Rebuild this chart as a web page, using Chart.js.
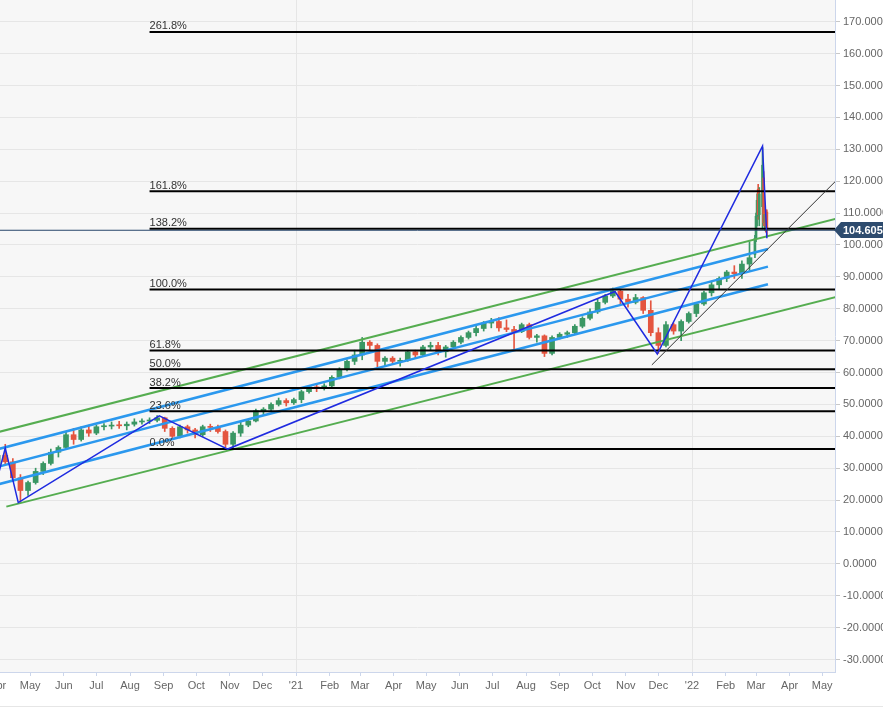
<!DOCTYPE html>
<html><head><meta charset="utf-8">
<script src="https://cdn.jsdelivr.net/npm/chart.js@4.4.1/dist/chart.umd.min.js"></script>
<style>
html,body{margin:0;padding:0;background:#fff;}
#wrap{position:relative;width:883px;height:721px;overflow:hidden;}
canvas{display:block;}
#navline{position:absolute;left:0;top:706px;width:883px;height:1px;background:#e6e6e6;}
</style></head><body>
<div id="wrap"><canvas id="c" width="883" height="721"></canvas><div id="navline"></div></div>
<script>
// ---------- DATA ----------
const weekDates = ['2020-04-01','2020-04-08','2020-04-15','2020-04-22','2020-04-29','2020-05-06','2020-05-13','2020-05-20','2020-05-27','2020-06-03','2020-06-10','2020-06-17','2020-06-24','2020-07-01','2020-07-08','2020-07-15','2020-07-22','2020-07-29','2020-08-05','2020-08-12','2020-08-19','2020-08-26','2020-09-02','2020-09-09','2020-09-16','2020-09-23','2020-09-30','2020-10-07','2020-10-14','2020-10-21','2020-10-28','2020-11-04','2020-11-11','2020-11-18','2020-11-25','2020-12-02','2020-12-09','2020-12-16','2020-12-23','2020-12-30','2021-01-06','2021-01-13','2021-01-20','2021-01-27','2021-02-03','2021-02-10','2021-02-17','2021-02-24','2021-03-03','2021-03-10','2021-03-17','2021-03-24','2021-03-31','2021-04-07','2021-04-14','2021-04-21','2021-04-28','2021-05-05','2021-05-12','2021-05-19','2021-05-26','2021-06-02','2021-06-09','2021-06-16','2021-06-23','2021-06-30','2021-07-07','2021-07-14','2021-07-21','2021-07-28','2021-08-04','2021-08-11','2021-08-18','2021-08-25','2021-09-01','2021-09-08','2021-09-15','2021-09-22','2021-09-29','2021-10-06','2021-10-13','2021-10-20','2021-10-27','2021-11-03','2021-11-10','2021-11-17','2021-11-24','2021-12-01','2021-12-08','2021-12-15','2021-12-22','2021-12-29','2022-01-05','2022-01-12','2022-01-19','2022-01-26','2022-02-02','2022-02-09','2022-02-16','2022-02-23'];
const weekOpen  = [31,34,32,27,23,25.5,29,31.5,35,36.5,40.5,39,42,41,43,43.2,43.5,43.3,43.8,44.5,44.8,45,45.8,42.5,40,43,42,40.5,43,42.8,41.5,37.5,41,43.5,44.8,48,48.5,50,51.2,50.5,51.5,54,55.5,55,55.8,58.5,61,63.5,65.5,69.5,68.5,63.5,64.5,63.5,63.8,66.5,65.5,68,68.5,66.5,68,69.5,71,72.5,73.8,75.5,76,74,73.5,72.8,75,71,71.5,66,71,72,72.5,74.5,77,79,82,84,85.5,83,82,83.5,79.5,72.5,68.5,75,73,76,78.5,81.5,85,87.5,89.5,91.5,91,94];
const weekHigh  = [35,37.5,33,28,26,30,32,36,37,41.5,42.5,43,43.5,43.5,44,44.5,44.7,44.5,45.5,45.5,45.8,46.5,46,43,43.5,43.5,42.5,43.5,43.8,43.5,42,41.5,44.5,45,48.5,49,50.5,52,51.8,52,54.5,56,56.5,56.5,59,61.5,64,67,71,70,69,65,65,64.5,67,67,68.5,69.5,69.5,68.5,70,71.5,73,74.5,76,77,77.2,76.5,74.5,75.5,75.5,72,71.8,71.5,72.5,73,75,77.5,80,83,84.5,86.5,86,84.5,84.5,83.8,82.5,74,76,75.5,76.5,79,82,85.5,88.5,90,92,93.5,95,101];
const weekLow   = [30,31,26,19.3,21.5,25,28,31,33.5,36,37.5,38.5,40,40.5,42,42.3,42.5,42,43.2,43.8,44,44.5,41.5,39.3,39.5,41,39.5,40,41.5,41,36.5,36.2,40,43,44.5,46.8,48,49.5,49.5,50,50.5,53.5,54,54.5,55.5,58,60.5,62.5,64,67,61.5,62,62.5,62,63.5,64.5,65,67,65.5,64.8,67.5,69,70.5,71.5,73,74,73,72.8,67.5,72.5,70.5,69.5,65,65.5,70.5,71,72,74,76.5,78.5,81.5,83.5,81.5,80.5,81.5,78.5,71.5,66,68,72,70,75.5,77.5,81,84,86,88.5,89.5,89.5,92];
const weekClose = [34,32,27,23,25.5,29,31.5,35,36.5,40.5,39,42,41,43,43.2,43.5,43.3,43.8,44.5,44.8,45,45.8,42.5,40,43,42,40.5,43,42.8,41.5,37.5,41,43.5,44.8,48,48.5,50,51.2,50.5,51.5,54,55.5,55,55.8,58.5,61,63.5,65.5,69.5,68.5,63.5,64.5,63.5,63.8,66.5,65.5,68,68.5,66.5,68,69.5,71,72.5,73.8,75.5,76,74,73.5,72.8,75,71,71.5,66,71,72,72.5,74.5,77,79,82,84,85.5,83,82,83.5,79.5,72.5,68.5,75,73,76,78.5,81.5,85,87.5,89.5,91.5,91,94,96];

const dayDates = ['2022-02-28','2022-03-01','2022-03-02','2022-03-03','2022-03-04','2022-03-07','2022-03-08','2022-03-09','2022-03-10','2022-03-11'];
const dayOpen  = [97,102,109,117.5,109.5,112,121,107,109.5,110.3];
const dayHigh  = [103,110,116,119,118,130.5,123,112,111,111];
const dayLow   = [96,101,106,108,106,105,106,104.5,104,102.5];
const dayClose = [102,109,114,109.5,116,125,107,109.5,106,104.605];

const lastPrice = 104.605;

// drawn studies: [date, value]
const channelUpperGreen = [['2020-04-02',41.37],['2022-05-13',108.17]];
const channelLowerGreen = [['2020-04-09',17.95],['2022-05-13',83.59]];
const channelBlueTop    = [['2020-04-02',36.03],['2022-03-12',98.74]];
const channelBlueMid    = [['2020-04-02',30.49],['2022-03-12',93.19]];
const channelBlueBottom = [['2020-04-02',24.97],['2022-03-12',87.67]];
const zigzag = [['2020-04-02',28.5],['2020-04-08',36.3],['2020-04-20',19.2],['2020-08-28',46.4],['2020-10-30',36.0],['2021-10-22',85.4],['2021-11-30',65.8],['2022-03-07',131.0],['2022-03-11',102.1]];
const supportLine = [['2021-11-25',62.4],['2022-05-13',119.87]];

const fibLabels = ['0.0%','23.6%','38.2%','50.0%','61.8%','100.0%','138.2%','161.8%','261.8%'];
const fibValues = [36.05,47.84,55.13,61.03,66.92,86.0,105.07,116.87,166.80];
const fibStart = '2020-08-19', fibEnd = '2022-05-13';

const xTickDates = ['2020-04-01','2020-05-01','2020-06-01','2020-07-01','2020-08-01','2020-09-01','2020-10-01','2020-11-01','2020-12-01','2021-01-01','2021-02-01','2021-03-01','2021-04-01','2021-05-01','2021-06-01','2021-07-01','2021-08-01','2021-09-01','2021-10-01','2021-11-01','2021-12-01','2022-01-01','2022-02-01','2022-03-01','2022-04-01','2022-05-01'];
const xTickLabels = ['Apr','May','Jun','Jul','Aug','Sep','Oct','Nov','Dec',"'21",'Feb','Mar','Apr','May','Jun','Jul','Aug','Sep','Oct','Nov','Dec',"'22",'Feb','Mar','Apr','May'];
const yTickValues = [-30,-20,-10,0,10,20,30,40,50,60,70,80,90,100,110,120,130,140,150,160,170];

// ---------- BUILD ----------
const dayNum = s => { const [y,m,d] = s.split('-').map(Number); return (Date.UTC(y,m-1,d) - Date.UTC(2020,0,1)) / 86400000; };
const GREEN = '#3a9764', RED = '#e4553f';
const FONT = '"Liberation Sans", Arial, sans-serif';

function candleSets(dates, o, h, l, c, bodyW, order) {
  const cols = o.map((v,i) => c[i] >= v ? GREEN : RED);
  return [
    { type:'bar', data: dates.map((d,i)=>({x:dayNum(d), y:[l[i],h[i]]})), backgroundColor: cols, barThickness: 1, grouped:false, order: order+1, minBarLength:1 },
    { type:'bar', data: dates.map((d,i)=>({x:dayNum(d), y:[o[i],c[i]]})), backgroundColor: cols, barThickness: bodyW, grouped:false, order: order, minBarLength:1 }
  ];
}
function lineSet(pts, color, width, order) {
  return { type:'line', data: pts.map(p=>({x:dayNum(p[0]), y:p[1]})), borderColor: color, borderWidth: width, pointRadius:0, fill:false, tension:0, order: order };
}

const datasets = [
  ...candleSets(weekDates, weekOpen, weekHigh, weekLow, weekClose, 5, 20),
  ...candleSets(dayDates, dayOpen, dayHigh, dayLow, dayClose, 2, 20),
  lineSet(channelUpperGreen, '#55ad50', 2, 8),
  lineSet(channelLowerGreen, '#55ad50', 2, 8),
  lineSet(channelBlueTop, '#2b98ee', 2.5, 7),
  lineSet(channelBlueMid, '#2b98ee', 2.5, 7),
  lineSet(channelBlueBottom, '#2b98ee', 2.5, 7),
  ...fibValues.map(v => lineSet([[fibStart, v],[fibEnd, v]], '#000000', 2, 6)),
  lineSet(zigzag, '#1f2be0', 1.5, 4),
  lineSet(supportLine, '#333333', 1, 4),
  lineSet([['2020-04-01', lastPrice],['2022-05-20', lastPrice]], '#27466b', 1, 2)
];

const xTickDays = xTickDates.map(dayNum);

const decor = {
  id: 'decor',
  beforeDraw(chart) {
    const {ctx, chartArea: a} = chart;
    ctx.save(); ctx.fillStyle = '#f7f7f7';
    ctx.fillRect(a.left, a.top, a.right - a.left, a.bottom - a.top);
    ctx.restore();
  },
  afterDatasetsDraw(chart) {
    const {ctx, scales: {x, y}} = chart;
    ctx.save();
    ctx.font = '11px ' + FONT; ctx.fillStyle = '#333'; ctx.textBaseline = 'alphabetic'; ctx.textAlign = 'left';
    const px = x.getPixelForValue(dayNum(fibStart));
    fibValues.forEach((v,i) => ctx.fillText(fibLabels[i], px, y.getPixelForValue(v) - 2.5));
    ctx.restore();
  },
  afterDraw(chart) {
    const {ctx, chartArea: a, scales: {y}} = chart;
    const py = Math.round(y.getPixelForValue(lastPrice));
    ctx.save();
    ctx.fillStyle = '#2d4b6e';
    ctx.beginPath();
    ctx.moveTo(a.right - 1, py); ctx.lineTo(a.right + 6, py - 8); ctx.lineTo(chart.width, py - 8);
    ctx.lineTo(chart.width, py + 8); ctx.lineTo(a.right + 6, py + 8); ctx.closePath(); ctx.fill();
    ctx.fillStyle = '#fff'; ctx.font = 'bold 11px ' + FONT; ctx.textBaseline = 'middle'; ctx.textAlign = 'left';
    ctx.fillText(lastPrice.toFixed(3), a.right + 8, py + 0.5);
    ctx.restore();
  }
};

new Chart(document.getElementById('c'), {
  type: 'line',
  data: { datasets },
  options: {
    responsive: false, animation: false, devicePixelRatio: 1, events: [],
    layout: { padding: 0 },
    plugins: { legend: {display:false}, tooltip: {enabled:false} },
    scales: {
      x: {
        type: 'linear', position: 'bottom', min: 93.16, max: 862.8, offset: false,
        afterBuildTicks: s => { s.ticks = xTickDays.map(v => ({value: v})); },
        afterFit: s => { s.height = 49; s.paddingLeft = 0; s.paddingRight = 0; },
        grid: { offset:false, color: c => (c.tick && (c.index === 9 || c.index === 21)) ? '#e6e6e6' : 'rgba(0,0,0,0)', tickColor: '#ccd6eb', tickLength: 4, lineWidth: 1 },
        border: { display: true, color: '#ccd6eb' },
        ticks: { autoSkip:false, maxRotation:0, minRotation:0, padding: 3, color:'#666', font:{family:FONT, size:11}, callback: (v, i) => xTickLabels[i] }
      },
      y: {
        type: 'linear', position: 'right', min: -33.9, max: 176.8,
        afterBuildTicks: s => { s.ticks = yTickValues.map(v => ({value: v})); },
        afterFit: s => { s.width = 48; s.paddingTop = 0; s.paddingBottom = 0; },
        grid: { color: '#e6e6e6', tickColor: '#c8c8c8', tickLength: 5 },
        border: { display: true, color: '#ccd6eb' },
        ticks: { padding: 3, color:'#666', font:{family:FONT, size:11}, callback: v => Number(v).toFixed(4) }
      }
    }
  },
  plugins: [decor]
});
</script>
</body></html>
